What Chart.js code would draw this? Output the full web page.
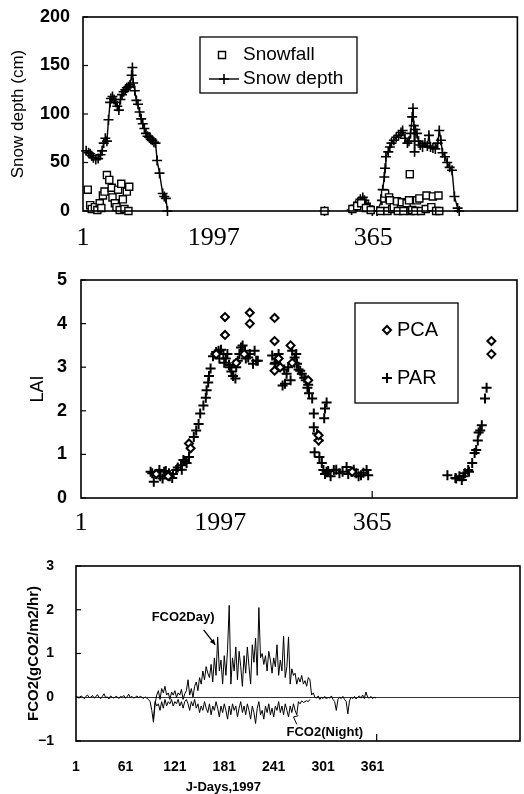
<!DOCTYPE html>
<html>
<head>
<meta charset="utf-8">
<script src="https://cdn.jsdelivr.net/npm/chart.js@4.4.0/dist/chart.umd.min.js"></script>
<style>
  html, body { margin: 0; padding: 0; background: #fff; }
  #wrap { position: relative; width: 524px; height: 794px; }
  .panel { position: absolute; left: 0; }
</style>
</head>
<body>
<div id="wrap">
  <canvas id="snowChart" class="panel" style="top:0" width="524" height="252"></canvas>
  <canvas id="laiChart" class="panel" style="top:252px" width="524" height="293"></canvas>
  <canvas id="fluxChart" class="panel" style="top:545px" width="524" height="249"></canvas>
</div>
<script>
// ---- data: [day, value] ----
const snowDepth = [
  [5,62],[8,60],[10,59],[12,57],[14,55],[17,53],[20,54],[23,58],[25,62],[27,70],[29,75],[31,72],
  [33,94],[35,112],[36,116],[38,118],[40,115],[42,112],[44,108],[46,104],[48,115],[50,120],[52,123],
  [54,125],[56,127],[58,128],[60,130],[62,140],[63,148],[64,132],[66,124],[68,114],[70,110],[72,102],
  [74,95],[76,90],[78,85],[80,80],[82,77],[84,76],[86,74],[88,73],[90,71],[92,70],[94,52],[97,39],
  [101,18],[103,15],[105,13],[107,0],[200,null],[304,0],[320,null],
  [338,1],[341,4],[343,6],[346,9],[349,12],[352,14],[354,11],[356,8],[359,5],[361,3],[364,0],[370,0],
  [376,11],[377,22],[379,35],[380,44],[381,56],[384,61],[386,66],[388,70],[391,73],[394,76],[397,78],
  [400,81],[402,83],[405,75],[408,70],[410,72],[412,80],[414,97],[415,106],[416,88],[417,61],[418,84],
  [420,80],[422,72],[424,68],[427,66],[430,70],[433,67],[435,78],[437,66],[440,65],[443,64],[446,70],
  [448,83],[450,73],[452,60],[455,56],[458,50],[461,45],[464,42],[467,15],[471,3],[473,0]
];
const snowFall = [
  [7,22],[10,6],[12,2],[16,4],[19,1],[22,8],[24,3],[26,16],[28,20],[31,37],[34,32],[37,24],[38,14],
  [41,8],[43,4],[45,22],[47,1],[49,28],[51,12],[53,2],[56,20],[58,0],[59,25],
  [304,0],[339,2],[345,5],[350,8],[356,3],[362,1],[374,0],[379,13],[380,18],[383,0],[385,14],[386,11],
  [389,2],[391,4],[395,10],[396,0],[401,9],[403,0],[407,8],[410,11],[411,38],[412,0],[414,1],[418,0],
  [420,11],[423,13],[425,0],[431,2],[432,16],[438,4],[440,15],[444,0],[447,16],[448,0]
];
const laiPar = [
  [88,0.6],[90,0.57],[92,0.37],[95,0.55],[99,0.64],[100,0.5],[103,0.45],[105,0.6],[107,0.62],[111,0.57],
  [112,0.5],[115,0.46],[116,0.55],[120,0.64],[122,0.7],[126,0.75],[127,0.65],[129,0.87],[131,0.85],
  [133,0.8],[136,0.94],[142,1.4],[145,1.55],[148,1.7],[150,1.94],[154,2.12],[157,2.3],[158,2.47],
  [160,2.65],[161,2.8],[163,2.97],[166,3.25],[169,3.3],[170,3.35],[173,3.38],[174,3.2],[176,3.4],
  [179,3.3],[180,3.1],[182,3.2],[184,3.3],[186,3.05],[187,3.0],[189,2.9],[191,2.8],[194,2.74],[195,3.0],
  [197,3.15],[199,3.3],[201,3.45],[203,3.5],[206,3.38],[207,3.2],[210,3.22],[212,3.3],[216,3.08],
  [218,3.38],[220,3.15],[222,3.15],[240,3.27],[243,3.08],[244,3.1],[247,3.2],[248,3.3],[250,3.0],
  [253,2.58],[255,2.95],[256,2.62],[258,2.85],[260,3.0],[263,2.7],[265,3.38],[268,3.1],[268,3.22],
  [270,3.3],[271,3.08],[273,2.95],[275,2.92],[277,2.85],[280,2.76],[282,2.7],[284,2.53],[285,2.6],
  [286,2.4],[290,2.28],[292,1.94],[292,1.62],[293,1.05],[296,1.48],[298,1.32],[299,0.94],[302,0.8],
  [305,1.83],[306,2.05],[308,2.19],[304,0.64],[306,0.55],[308,0.6],[310,0.62],[313,0.5],[317,0.64],
  [320,0.65],[324,0.57],[328,0.6],[333,0.71],[335,0.55],[339,0.6],[342,0.65],[345,0.57],[348,0.5],
  [351,0.52],[354,0.58],[358,0.64],[360,0.52],
  [459,0.52],[469,0.46],[470,0.45],[474,0.5],[477,0.41],[479,0.5],[481,0.57],[485,0.64],[486,0.6],
  [490,0.8],[493,1.03],[495,1.1],[497,1.32],[498,1.5],[500,1.55],[502,1.67],[506,2.28],[508,2.53]
];
const laiPca = [
  [95,0.55],[110,0.5],[136,1.25],[138,1.14],[170,3.3],[181,4.15],[181,3.74],[195,3.1],[205,3.3],
  [212,4.25],[212,4.0],[243,4.13],[243,3.6],[243,2.92],[248,3.2],[250,3.0],[263,3.5],[265,3.1],
  [285,2.7],[298,1.32],[298,1.44],[340,0.6],[514,3.6],[514,3.3]
];
const yearTicks = [1, 165, 365];
const yearTicksLai = [1, 175, 365];
const yearLabels = ['1', '1997', '365'];

// CO2 flux, one value every 2nd day
const fluxStartDay = 1;
const fluxStep = 2;
const fco2Day = [
  0.02,0.0,-0.02,0.03,0.01,-0.03,0.02,0.05,-0.01,0.0,
  0.04,-0.02,0.01,0.06,0.0,-0.03,0.02,0.08,-0.01,0.01,
  -0.04,0.03,0.0,-0.02,0.02,0.01,-0.03,0.02,0.0,0.04,
  -0.02,0.01,0.07,-0.01,0.02,-0.02,0.0,0.03,-0.01,0.02,
  0.0,-0.03,0.01,-0.02,-0.05,-0.1,-0.3,
  -0.57,-0.15,0.05,0.15,-0.05,0.2,0.1,0.25,0.05,0.1,
  -0.05,0.12,0.05,0.15,0.0,0.1,0.05,0.18,-0.05,0.08,
  0.15,0.4,0.05,0.2,0.0,0.25,0.35,0.15,0.45,0.3,
  0.6,0.4,0.7,0.55,0.45,0.75,0.35,0.9,0.5,1.38,
  0.6,0.85,0.3,0.95,0.5,1.1,2.1,0.3,0.9,0.6,
  1.15,0.4,1.05,0.7,0.25,0.95,0.55,1.15,0.7,0.3,
  1.2,0.8,1.35,0.5,2.05,0.9,1.0,0.75,0.95,0.6,
  1.05,0.85,0.55,0.9,0.7,1.2,0.5,0.85,0.6,1.4,
  0.45,0.7,1.38,0.3,0.65,0.5,0.55,0.3,0.45,0.35,
  0.5,0.3,0.38,0.25,0.45,0.4,
  0.05,0.1,0.0,-0.02,0.03,-0.05,0.0,-0.03,0.02,-0.04,
  0.0,-0.02,0.03,-0.05,-0.1,-0.3,-0.05,0.0,-0.03,0.02,
  -0.05,-0.1,-0.38,-0.08,0.0,-0.03,0.02,-0.04,0.0,0.03,
  -0.02,0.05,-0.03,0.12,0.0,-0.02,0.02,-0.03,0.0,-0.02
];
const nightStartDay = 95;
const fco2Night = [
  -0.5,-0.1,-0.2,-0.15,-0.3,-0.1,-0.25,-0.05,-0.2,-0.1,
  -0.15,-0.05,-0.2,-0.1,-0.15,-0.05,-0.2,-0.1,-0.25,-0.1,
  -0.05,-0.15,-0.3,-0.1,-0.2,-0.05,-0.25,-0.15,-0.35,-0.2,
  -0.3,-0.1,-0.25,-0.35,-0.15,-0.4,-0.2,-0.3,-0.1,-0.25,
  -0.45,-0.2,-0.35,-0.15,-0.3,-0.5,-0.2,-0.4,-0.15,-0.3,
  -0.2,-0.45,-0.25,-0.1,-0.35,-0.2,-0.4,-0.15,-0.3,-0.5,
  -0.2,-0.35,-0.6,-0.25,-0.1,-0.4,-0.3,-0.5,-0.2,-0.35,
  -0.15,-0.4,-0.25,-0.45,-0.2,-0.3,-0.1,-0.35,-0.2,-0.4,
  -0.15,-0.3,-0.45,-0.2,-0.35,-0.15,-0.3,-0.4,-0.1,-0.15,
  -0.08,-0.12,-0.1,-0.08,-0.1,-0.05
];
const fluxTicks = [1, 61, 121, 181, 241, 301, 361];

// ---- helpers ----
const SANS = '"Liberation Sans", Arial, Helvetica, sans-serif';
const SERIF = '"Liberation Serif", "Times New Roman", serif';
const pts = arr => arr.map(p => ({ x: p[0], y: p[1] }));
const series = (vals, start) => vals.map((v, i) => ({ x: start + i * fluxStep, y: v }));

// fixed y-axis width, and no extra label padding so layout.padding.top decides the plot top
const fitY = w => s => { s.width = w; s.paddingTop = 0; s.paddingBottom = 0; };

const framePlugin = {
  id: 'frame',
  afterDatasetsDraw(chart, args, opts) {
    const { ctx, chartArea: a, scales } = chart;
    ctx.save();
    ctx.strokeStyle = '#000';
    ctx.lineWidth = 1.6;
    ctx.strokeRect(a.left, a.top, a.right - a.left, a.bottom - a.top);
    ctx.lineWidth = 1.2;
    scales.y.ticks.forEach(t => {
      const py = scales.y.getPixelForValue(t.value);
      ctx.beginPath(); ctx.moveTo(a.left, py); ctx.lineTo(a.left + 5, py); ctx.stroke();
    });
    (opts.xMarks || []).forEach(v => {
      const px = scales.x.getPixelForValue(v);
      ctx.beginPath(); ctx.moveTo(px, a.bottom); ctx.lineTo(px, a.bottom - 7); ctx.stroke();
    });
    ctx.restore();
  }
};

const boxLegend = {
  id: 'boxLegend',
  afterDraw(chart, args, opts) {
    if (!opts.box) return;
    const { ctx } = chart;
    const [bx, by, bw, bh] = opts.box;
    ctx.save();
    ctx.fillStyle = '#fff';
    ctx.fillRect(bx, by, bw, bh);
    ctx.strokeStyle = '#000';
    ctx.lineWidth = 1.3;
    ctx.strokeRect(bx, by, bw, bh);
    ctx.font = opts.font;
    ctx.textBaseline = 'middle';
    chart.data.datasets.forEach((ds, i) => {
      const r = opts.rows[i];
      ctx.strokeStyle = '#000';
      if (ds.showLine) {
        ctx.lineWidth = ds.borderWidth;
        ctx.beginPath(); ctx.moveTo(r.mx - 15, r.y); ctx.lineTo(r.mx + 15, r.y); ctx.stroke();
      }
      ctx.fillStyle = ds.pointBackgroundColor;
      ctx.lineWidth = ds.pointBorderWidth;
      Chart.helpers.drawPoint(ctx, { pointStyle: ds.pointStyle, radius: ds.pointRadius, borderWidth: ds.pointBorderWidth, rotation: 0 }, r.mx, r.y);
      ctx.fillStyle = '#000';
      ctx.fillText(ds.label, r.tx, r.y);
    });
    ctx.restore();
  }
};

const fluxNotes = {
  id: 'fluxNotes',
  afterDraw(chart) {
    const { ctx, scales: { x, y }, chartArea: a } = chart;
    const px = v => x.getPixelForValue(v);
    const py = v => y.getPixelForValue(v);
    ctx.save();
    ctx.fillStyle = '#000';
    ctx.strokeStyle = '#000';
    ctx.font = 'bold 13px ' + SANS;
    ctx.textAlign = 'center';
    ctx.textBaseline = 'middle';
    ctx.fillText('FCO2Day)', px(131), py(1.82));
    ctx.fillText('FCO2(Night)', px(303), py(-0.8));
    ctx.fillText('J-Days,1997', px(180), a.bottom + 46);
    // arrow to the day curve
    const x0 = px(156), y0 = py(1.54), x1 = px(170), y1 = py(1.2);
    ctx.lineWidth = 1.3;
    ctx.beginPath(); ctx.moveTo(x0, y0); ctx.lineTo(x1, y1); ctx.stroke();
    const ang = Math.atan2(y1 - y0, x1 - x0);
    ctx.beginPath();
    ctx.moveTo(x1, y1);
    ctx.lineTo(x1 - 6 * Math.cos(ang - 0.45), y1 - 6 * Math.sin(ang - 0.45));
    ctx.lineTo(x1 - 6 * Math.cos(ang + 0.45), y1 - 6 * Math.sin(ang + 0.45));
    ctx.closePath(); ctx.fill();
    // small hook to the night curve
    ctx.lineWidth = 1;
    ctx.beginPath();
    ctx.moveTo(px(269), py(-0.62)); ctx.lineTo(px(265), py(-0.45)); ctx.lineTo(px(271), py(-0.42));
    ctx.stroke();
    ctx.restore();
  }
};

const fixedTicks = (vals) => s => { s.ticks = vals.map(v => ({ value: v })); };

// ---- snow chart ----
new Chart(document.getElementById('snowChart'), {
  type: 'scatter',
  data: {
    datasets: [
      {
        label: 'Snowfall',
        data: pts(snowFall),
        pointStyle: 'rect', pointRadius: 5, pointBorderWidth: 1.4,
        pointBackgroundColor: '#fff', pointBorderColor: '#000',
        showLine: false, clip: 8
      },
      {
        label: 'Snow depth',
        data: pts(snowDepth),
        pointStyle: 'cross', pointRadius: 5, pointBorderWidth: 1.6,
        pointBackgroundColor: '#000', pointBorderColor: '#000',
        borderColor: '#000', borderWidth: 1.4, showLine: true, spanGaps: false, clip: 8
      }
    ]
  },
  options: {
    responsive: false, animation: false, devicePixelRatio: 1,
    layout: { padding: { top: 17, right: 2, left: 0, bottom: 0 } },
    plugins: {
      legend: { display: false }, tooltip: { enabled: false },
      boxLegend: {
        box: [200, 37, 157, 56],
        font: '19px ' + SANS,
        rows: [{ mx: 222, tx: 243, y: 55 }, { mx: 224, tx: 243, y: 79 }]
      },
      frame: {}
    },
    scales: {
      x: {
        type: 'linear', min: 1, max: 546,
        afterBuildTicks: fixedTicks(yearTicks),
        afterFit: s => { s.height = 41; },
        grid: { display: false, drawTicks: false }, border: { display: false },
        ticks: {
          autoSkip: false, maxRotation: 0, padding: 12, color: '#000',
          font: { family: SERIF, size: 26 },
          callback: v => yearLabels[yearTicks.indexOf(v)]
        }
      },
      y: {
        min: 0, max: 200,
        afterFit: fitY(83),
        grid: { display: false, drawTicks: false }, border: { display: false },
        ticks: { stepSize: 50, padding: 13, color: '#000', font: { family: SANS, size: 18, weight: 'bold' } },
        title: { display: true, text: 'Snow depth (cm)', color: '#000', font: { family: SANS, size: 17 }, padding: { top: 8, bottom: 0 } }
      }
    }
  },
  plugins: [framePlugin, boxLegend]
});

// ---- LAI chart ----
new Chart(document.getElementById('laiChart'), {
  type: 'scatter',
  data: {
    datasets: [
      {
        label: 'PCA',
        data: pts(laiPca),
        pointStyle: 'rectRot', pointRadius: 4, pointBorderWidth: 2,
        pointBackgroundColor: '#fff', pointBorderColor: '#000', showLine: false, clip: 8
      },
      {
        label: 'PAR',
        data: pts(laiPar),
        pointStyle: 'cross', pointRadius: 5, pointBorderWidth: 2,
        pointBackgroundColor: '#000', pointBorderColor: '#000', showLine: false, clip: 8
      }
    ]
  },
  options: {
    responsive: false, animation: false, devicePixelRatio: 1,
    layout: { padding: { top: 28, right: 2, left: 0, bottom: 0 } },
    plugins: {
      legend: { display: false }, tooltip: { enabled: false },
      boxLegend: {
        box: [355, 51, 103, 100],
        font: '20px ' + SANS,
        rows: [{ mx: 387, tx: 397, y: 78 }, { mx: 387, tx: 397, y: 126 }]
      },
      frame: { xMarks: [365] }
    },
    scales: {
      x: {
        type: 'linear', min: 1, max: 546,
        afterBuildTicks: fixedTicks(yearTicksLai),
        afterFit: s => { s.height = 47; },
        grid: { display: false, drawTicks: false }, border: { display: false },
        ticks: {
          autoSkip: false, maxRotation: 0, padding: 10, color: '#000',
          font: { family: SERIF, size: 26 },
          callback: v => yearLabels[yearTicksLai.indexOf(v)]
        }
      },
      y: {
        min: 0, max: 5,
        afterFit: fitY(81),
        grid: { display: false, drawTicks: false }, border: { display: false },
        ticks: { stepSize: 1, padding: 14, color: '#000', font: { family: SANS, size: 18, weight: 'bold' } },
        title: { display: true, text: 'LAI', color: '#000', font: { family: SANS, size: 18 }, padding: { top: 27, bottom: 0 } }
      }
    }
  },
  plugins: [framePlugin, boxLegend]
});

// ---- CO2 flux chart ----
new Chart(document.getElementById('fluxChart'), {
  type: 'scatter',
  data: {
    datasets: [
      {
        label: 'FCO2Day',
        data: series(fco2Day, fluxStartDay),
        borderColor: '#000', borderWidth: 1, pointRadius: 0, showLine: true, tension: 0
      },
      {
        label: 'FCO2(Night)',
        data: series(fco2Night, nightStartDay),
        borderColor: '#000', borderWidth: 1, pointRadius: 0, showLine: true, tension: 0
      }
    ]
  },
  options: {
    responsive: false, animation: false, devicePixelRatio: 1,
    layout: { padding: { top: 21, right: 4, left: 0, bottom: 0 } },
    plugins: { legend: { display: false }, tooltip: { enabled: false }, frame: { xMarks: [366] } },
    scales: {
      x: {
        type: 'linear', min: 1, max: 540,
        afterBuildTicks: fixedTicks(fluxTicks),
        afterFit: s => { s.height = 53; },
        grid: { display: false, drawTicks: false }, border: { display: false },
        ticks: { autoSkip: false, maxRotation: 0, padding: 18, color: '#000', font: { family: SANS, size: 14, weight: 'bold' } }
      },
      y: {
        min: -1, max: 3,
        afterFit: fitY(76),
        grid: {
          drawTicks: false, lineWidth: 1,
          color: c => (c.tick && c.tick.value === 0 ? '#333' : 'rgba(0,0,0,0)')
        },
        border: { display: false },
        ticks: {
          stepSize: 1, padding: 22, color: '#000', font: { family: SANS, size: 14, weight: 'bold' },
          callback: v => (v < 0 ? '\u2212' + Math.abs(v) : String(v))
        },
        title: { display: true, text: 'FCO2(gCO2/m2/hr)', color: '#000', font: { family: SANS, size: 15, weight: 'bold' }, padding: { top: 25, bottom: 0 } }
      }
    }
  },
  plugins: [framePlugin, fluxNotes]
});
</script>
</body>
</html>
